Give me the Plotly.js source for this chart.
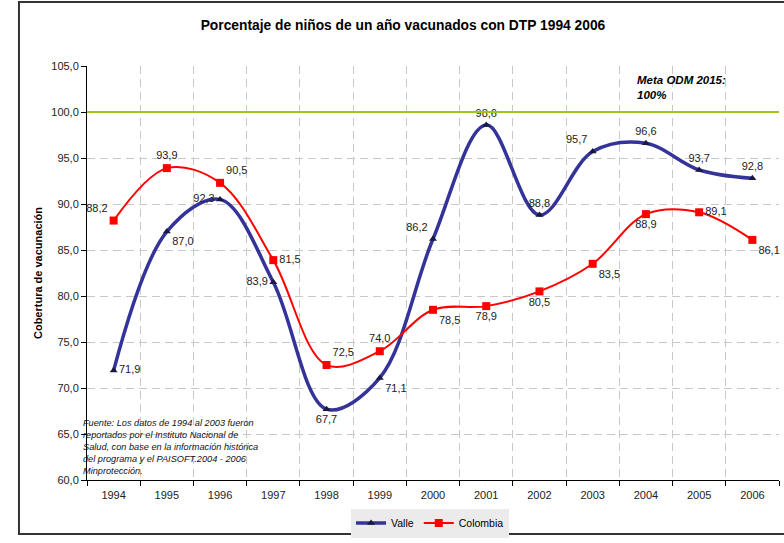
<!DOCTYPE html>
<html>
<head>
<meta charset="utf-8">
<script src="https://cdn.plot.ly/plotly-3.0.1.min.js"></script>
<style>html,body{margin:0;padding:0;background:#fff;}#chart{width:784px;height:543px;}</style>
</head>
<body>
<div id="chart"></div>
<script>
const years = ["1994","1995","1996","1997","1998","1999","2000","2001","2002","2003","2004","2005","2006"];
const valle = [71.9, 87.0, 90.5, 81.5, 67.7, 71.1, 86.2, 98.6, 88.8, 95.7, 96.6, 93.7, 92.8];
const colombia = [88.2, 93.9, 92.3, 83.9, 72.5, 74.0, 78.5, 78.9, 80.5, 83.5, 88.9, 89.1, 86.1];
const valleLabels = ["71,9","87,0","92,3","83,9","67,7","71,1","86,2","98,6","88,8","95,7","96,6","93,7","92,8"];
const colombiaLabels = ["88,2","93,9","90,5","81,5","72,5","74,0","78,5","78,9","80,5","83,5","88,9","89,1","86,1"];
const meta = 100;

const vallePos = ["middle right","bottom right","middle left","middle left","bottom center","bottom right","top left","top center","top center","top left","top center","top center","top center"];
const colPos = ["top left","top center","top right","middle right","top right","top center","bottom right","bottom center","bottom center","bottom right","bottom center","middle right","bottom right"];

const font = "Liberation Sans, Arial, sans-serif";
const traces = [
  {
    x: years, y: valle, name: "Valle", type: "scatter", mode: "lines+markers+text",
    line: {color: "#333399", width: 3.5, shape: "spline", smoothing: 1},
    marker: {symbol: "triangle-up", size: 7, color: "#1a1a40"},
    text: valleLabels, textposition: vallePos,
    textfont: {family: font, size: 11, color: "#222"},
    cliponaxis: false
  },
  {
    x: years, y: colombia, name: "Colombia", type: "scatter", mode: "lines+markers+text",
    line: {color: "#ff0000", width: 2, shape: "spline", smoothing: 1},
    marker: {symbol: "square", size: 8, color: "#ff0000", line: {color: "#000", width: 0}},
    text: colombiaLabels, textposition: colPos,
    textfont: {family: font, size: 11, color: "#222"},
    cliponaxis: false
  }
];

const layout = {
  width: 784, height: 543,
  margin: {l: 87, r: 5, t: 66, b: 63},
  paper_bgcolor: "#fff", plot_bgcolor: "#fff",
  separators: ",.",
  font: {family: font, size: 11, color: "#222"},
  title: {
    text: "<b>Porcentaje de niños de un año vacunados con DTP 1994 2006</b>",
    font: {family: font, size: 13.8, color: "#000"},
    x: 0.514, xref: "container", y: 0.953, yref: "container", xanchor: "center", yanchor: "middle"
  },
  xaxis: {
    type: "category", tickson: "boundaries",
    showgrid: true, gridcolor: "#c8c8c8", griddash: "8px,5px", gridwidth: 1,
    ticks: "outside", ticklen: 5, tickcolor: "#000",
    showline: true, linecolor: "#000", linewidth: 1,
    tickfont: {family: font, size: 11, color: "#222"},
    ticklabelstandoff: 5,
    range: [-0.5, 12.5]
  },
  yaxis: {
    range: [60, 105], dtick: 5, tick0: 60, tickformat: ".1f",
    showgrid: true, gridcolor: "#c8c8c8", griddash: "8px,5px", gridwidth: 1,
    ticks: "outside", ticklen: 5, tickcolor: "#000",
    showline: true, linecolor: "#000", linewidth: 1, zeroline: false,
    tickfont: {family: font, size: 11, color: "#222"},
    title: {text: "<b>Cobertura de vacunación</b>", font: {family: font, size: 11, color: "#000"}, standoff: 6}
  },
  showlegend: true,
  legend: {
    orientation: "h", x: 0.4957, y: -0.104, xanchor: "center", yanchor: "middle",
    bgcolor: "#ebebeb", font: {family: font, size: 10.5, color: "#000"},
    itemwidth: 30, tracegroupgap: 0
  },
  shapes: [
    {type: "line", xref: "paper", x0: 0, x1: 1, yref: "y", y0: meta, y1: meta,
     line: {color: "#9dc91e", width: 2}, layer: "above"},
    {type: "rect", xref: "paper", yref: "paper", x0: -0.0983, x1: 1.02, y0: -0.1304, y1: 1.1546,
     line: {color: "#333", width: 2}, fillcolor: "rgba(0,0,0,0)"}
  ],
  annotations: [
    {xref: "paper", yref: "paper", x: (635-87)/692, y: (480-72)/414, xanchor: "left", yanchor: "top", align: "left",
     text: "<b><i>Meta ODM 2015:<br>100%</i></b>", showarrow: false, font: {family: font, size: 11.5, color: "#000"}},
    {xref: "paper", yref: "paper", x: (81-87)/692, y: (480-416)/414, xanchor: "left", yanchor: "top", align: "left",
     text: "<i>Fuente: Los datos de 1994 al 2003 fueron<br>reportados por el Instituto Nacional de<br>Salud, con base en la información histórica<br>del programa y el PAISOFT.2004 - 2006<br>Minprotección.</i>",
     showarrow: false, font: {family: font, size: 9.2, color: "#111"}}
  ]
};

Plotly.newPlot("chart", traces, layout, {displayModeBar: false, staticPlot: true});
</script>
</body>
</html>
